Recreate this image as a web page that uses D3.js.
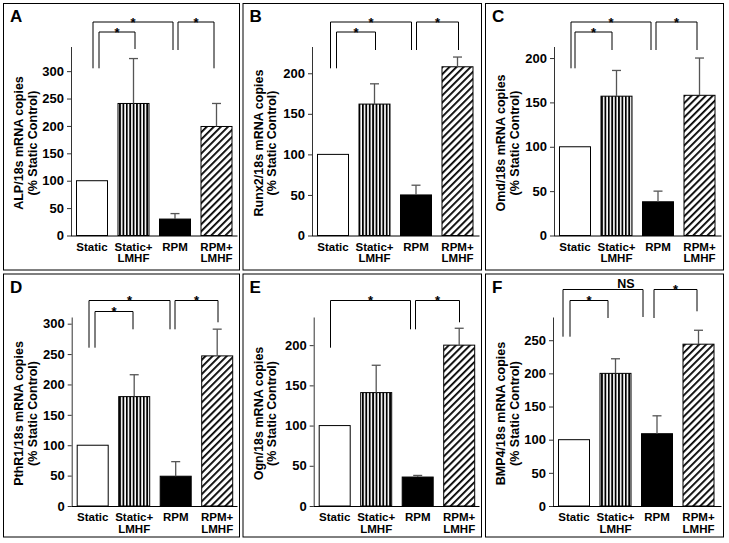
<!DOCTYPE html>
<html><head><meta charset="utf-8">
<script src="https://cdn.jsdelivr.net/npm/d3@7"></script>
<style>
html,body{margin:0;padding:0;background:#fff;}
svg{display:block;}
text{font-family:"Liberation Sans",Arial,sans-serif;font-weight:bold;fill:#000;}
</style></head>
<body>
<svg id="chart" width="729" height="543"></svg>
<script>
// ---------- data ----------
const panelLetters = ["A","B","C","D","E","F"];
const geneLabels = ["ALP/18s mRNA copies","Runx2/18s mRNA copies","Omd/18s mRNA copies",
                    "PthR1/18s mRNA copies","Ogn/18s mRNA copies","BMP4/18s mRNA copies"];
const yLabel2 = "(% Static Control)";
const groups = ["Static","Static+ LMHF","RPM","RPM+ LMHF"];
const groupLines = [["Static"],["Static+","LMHF"],["RPM"],["RPM+","LMHF"]];
const meansA = [100, 241, 30, 199],  semA = [0, 82, 10, 42];
const meansB = [100, 162, 50, 208],  semB = [0, 25, 12, 12];
const meansC = [100, 157, 38, 158],  semC = [0, 29, 12, 42];
const meansD = [100, 180, 49, 247],  semD = [0, 36, 24, 44];
const meansE = [100, 141, 36, 200],  semE = [0, 34, 2, 21];
const meansF = [100, 200, 109, 244], semF = [0, 22, 27, 21];
const means = [meansA, meansB, meansC, meansD, meansE, meansF];
const sems = [semA, semB, semC, semD, semE, semF];
const yMax = [345, 233, 213, 311, 235, 285];
const yTicksA = [0,50,100,150,200,250,300];
const yTicksB = [0,50,100,150,200];
const yTicksC = [0,50,100,150,200];
const yTicksD = [0,50,100,150,200,250,300];
const yTicksE = [0,50,100,150,200];
const yTicksF = [0,50,100,150,200,250];
const yTicks = [yTicksA, yTicksB, yTicksC, yTicksD, yTicksE, yTicksF];
// significance comparisons: [fromGroup, toGroup, label]
const compsA = [[0,2,"*"],[0,1,"*"],[2,3,"*"]];
const compsB = [[0,2,"*"],[0,1,"*"],[2,3,"*"]];
const compsC = [[0,2,"*"],[0,1,"*"],[2,3,"*"]];
const compsD = [[0,2,"*"],[0,1,"*"],[2,3,"*"]];
const compsE = [[0,2,"*"],[2,3,"*"]];
const compsF = [[0,2,"NS"],[0,1,"*"],[2,3,"*"]];
const comps = [compsA, compsB, compsC, compsD, compsE, compsF];

// ---------- layout ----------
const colX = [3.5, 243, 485.5], colW = [236, 238.5, 238];
const rowY = [3.5, 274], rowH = [266.5, 263];
const axisXRel = [67.5, 69, 68.5, 68.2, 70.7, 67.5];
// bracket geometry per comparison: [dxLeft, dxRight, topY, leftLegEnd, rightLegEnd] (relative to panel)
const brGeom = [
  [[1,-2.5,17.5,64.8,46.5],[6.5,1,28.2,64.8,45.5],[2.5,-3,17.5,46.5,64.8]],
  [[-2.7,-5.3,17.5,64.8,46.5],[3.3,0.8,28.2,64.8,46.5],[-0.3,0.2,17.5,46.5,46.5]],
  [[-4.3,-7.3,17.5,64.8,46.5],[0,-4.5,28.2,64.8,46.5],[-3,-3.5,17.5,46.5,46.5]],
  [[-4,-6.4,26,73.7,55.3],[2,-1.5,36.7,73.7,55.3],[-1.4,-0.2,26,55.3,48.3]],
  [[-4.4,-8,26,73.7,55.3],[-3,-0.5,26,55.3,48.3]],
  [[-11.7,-14.7,14.7,62.7,43],[-4,-7.8,26.3,62.7,44],[-3.7,-2.5,14.7,44,37.3]]
];

const svg = d3.select("#chart");
const defs = svg.append("defs");
const pv = defs.append("pattern").attr("id","vstripe").attr("patternUnits","userSpaceOnUse")
  .attr("width",3.4).attr("height",10);
pv.append("rect").attr("width",3.4).attr("height",10).attr("fill","#fff");
pv.append("rect").attr("x",0).attr("width",1.8).attr("height",10).attr("fill","#000");
const pd = defs.append("pattern").attr("id","dstripe").attr("patternUnits","userSpaceOnUse")
  .attr("width",5).attr("height",10).attr("patternTransform","rotate(45)");
pd.append("rect").attr("width",5).attr("height",10).attr("fill","#fff");
pd.append("rect").attr("x",0).attr("width",1.8).attr("height",10).attr("fill","#000");
const fills = ["#fff","url(#vstripe)","#000","url(#dstripe)"];

panelLetters.forEach((letter, i) => {
  const col = i % 3, row = Math.floor(i / 3);
  const px = colX[col], py = rowY[row], pw = colW[col], ph = rowH[row];
  const g = svg.append("g").attr("transform", `translate(${px},${py})`);
  g.append("rect").attr("x",0).attr("y",0).attr("width",pw).attr("height",ph)
    .attr("fill","none").attr("stroke","#000").attr("stroke-width",1);
  g.append("text").attr("x",6.5).attr("y",18.5).style("font-size","17px").text(letter);

  const ax = axisXRel[i];
  const y = d3.scaleLinear().domain([0, yMax[i]]).range([232, 43]);
  const x = d3.scaleBand().domain(groups).range([ax, ax + 166.5])
    .paddingInner(0.253).paddingOuter(0.1325);

  // y axis
  const yAxis = d3.axisLeft(y).tickValues(yTicks[i]).tickSize(4).tickSizeOuter(0).tickPadding(3);
  const ya = g.append("g").attr("transform", `translate(${ax},0)`).call(yAxis);
  ya.select(".domain").attr("stroke","#333");
  ya.selectAll(".tick line").attr("stroke","#333");
  ya.selectAll(".tick text").style("font-size","13px").style("font-family",'"Liberation Sans",Arial,sans-serif').style("font-weight","bold").attr("fill","#000");

  // x axis line
  g.append("line").attr("x1",ax).attr("x2",pw - 2).attr("y1",y(0)+0.5).attr("y2",y(0)+0.5)
    .attr("stroke","#000").attr("stroke-width",1);

  // bars
  g.selectAll("rect.bar").data(means[i]).join("rect").attr("class","bar")
    .attr("x",(d,j)=>x(groups[j])).attr("width",x.bandwidth())
    .attr("y",d=>y(d)).attr("height",d=>y(0)-y(d))
    .attr("fill",(d,j)=>fills[j]).attr("stroke","#000").attr("stroke-width",1);

  // error bars (upper only)
  means[i].forEach((m,j) => {
    const s = sems[i][j];
    if (!s) return;
    const cx = x(groups[j]) + x.bandwidth()/2;
    g.append("line").attr("x1",cx).attr("x2",cx).attr("y1",y(m)).attr("y2",y(m+s))
      .attr("stroke","#555").attr("stroke-width",1.3);
    g.append("line").attr("x1",cx-4.5).attr("x2",cx+4.5).attr("y1",y(m+s)).attr("y2",y(m+s))
      .attr("stroke","#555").attr("stroke-width",1.3);
  });

  // x labels
  groupLines.forEach((lines,j) => {
    const cx = x(groups[j]) + x.bandwidth()/2;
    lines.forEach((t,k) => {
      g.append("text").attr("x",cx).attr("y",247 + k*11.5).attr("text-anchor","middle")
        .style("font-size","11.5px").text(t);
    });
  });

  // y label
  const yc = 139.5;
  g.append("text").attr("transform",`translate(19.5,${yc}) rotate(-90)`).attr("text-anchor","middle")
    .style("font-size","12.5px").text(geneLabels[i]);
  g.append("text").attr("transform",`translate(33,${yc}) rotate(-90)`).attr("text-anchor","middle")
    .style("font-size","12.5px").text(yLabel2);

  // significance brackets
  comps[i].forEach((c,k) => {
    const [a,b,lab] = c;
    const [dl,dr,top,lEnd,rEnd] = brGeom[i][k];
    const xl = Math.round(x(groups[a]) + x.bandwidth()/2 + dl) + 0.5;
    const xr = Math.round(x(groups[b]) + x.bandwidth()/2 + dr) + 0.5;
    const ty = Math.round(top) + 0.5;
    g.append("path").attr("d",`M${xl},${lEnd}V${ty}H${xr}V${rEnd}`)
      .attr("fill","none").attr("stroke","#000").attr("stroke-width",1);
    if (lab === "*") {
      g.append("text").attr("x",(xl+xr)/2).attr("y",ty+4.5).attr("text-anchor","middle")
        .style("font-size","13px").text("*");
    } else {
      g.append("text").attr("x",xr-17).attr("y",ty-1.5).attr("text-anchor","middle")
        .style("font-size","12.5px").text(lab);
    }
  });
});
</script>
</body></html>
